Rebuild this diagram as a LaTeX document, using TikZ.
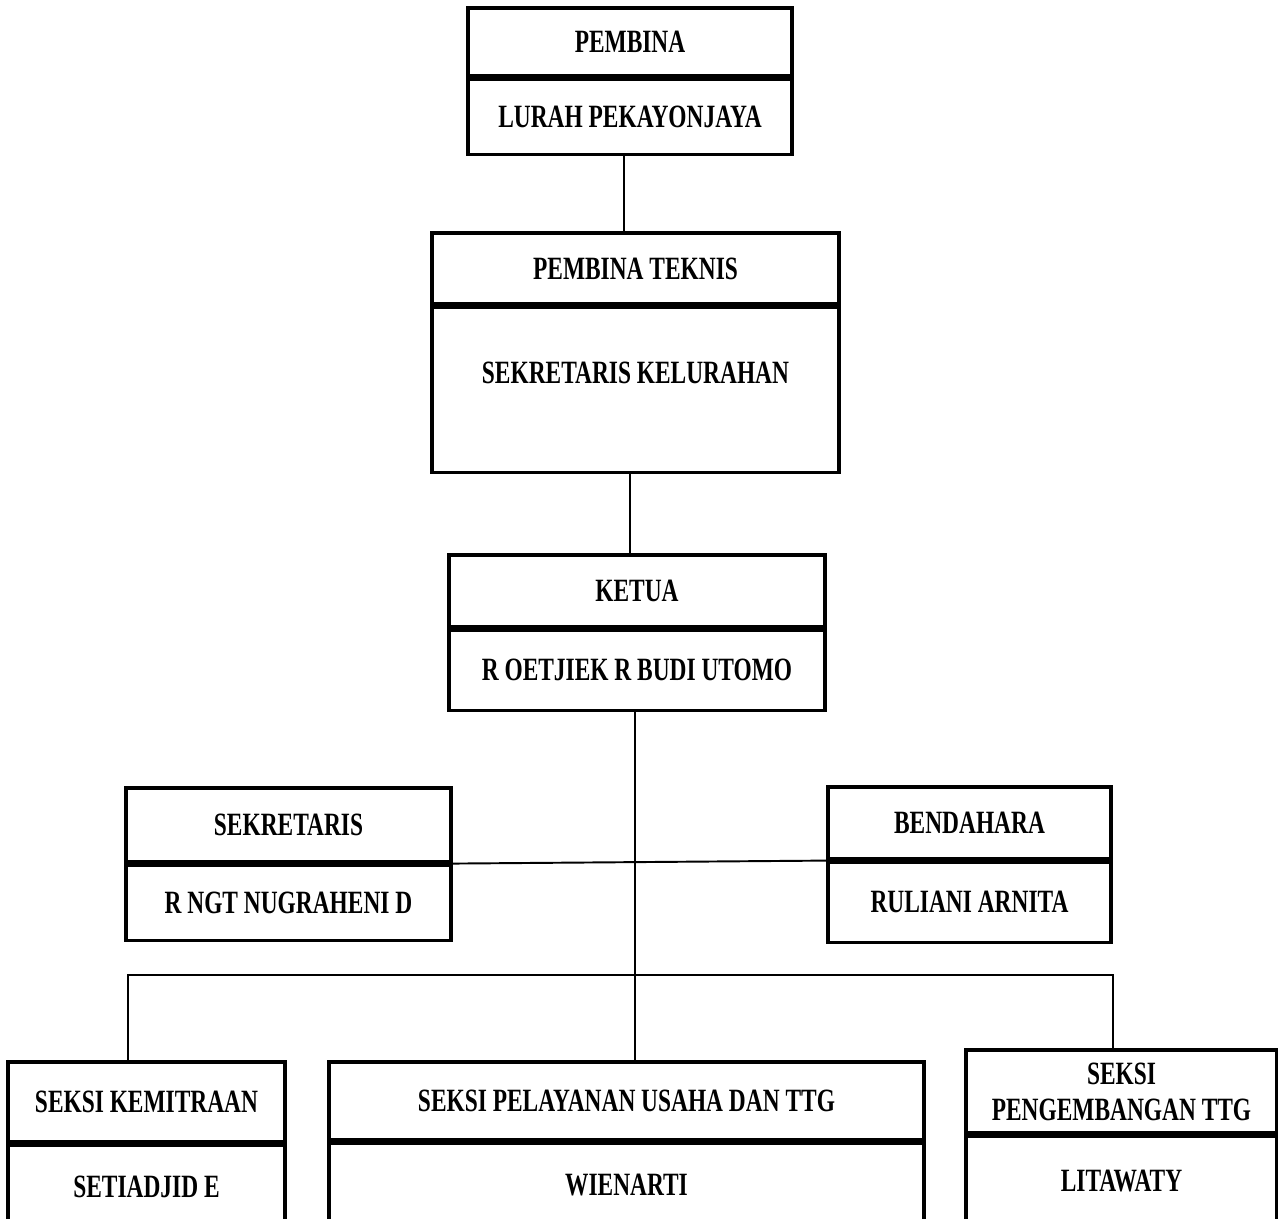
\documentclass[tikz,border=0pt]{standalone}
\usepackage{fontspec}
\setmainfont[FakeStretch=0.72]{Liberation Serif}
\usetikzlibrary{positioning}

\begin{document}
\begin{tikzpicture}[
    x=0.02cm, y=-0.02cm,
    every node/.style={font=\bfseries\fontsize{18.5}{18.5}\selectfont},
    unitbox/.style={draw, rectangle, line width=1.8pt, inner sep=0pt, align=center},
    link/.style={line width=1.1pt},
  ]
  \useasboundingbox (0,0) rectangle (1278,1218);
  \begin{scope}
  \clip (0,0) rectangle (1278,1218);
  % pembina
  \node[unitbox, minimum width=6.48cm, minimum height=1.36cm] (pembina) at (630,42) {PEMBINA};
  \node[unitbox, minimum width=6.48cm, minimum height=1.5cm, below=0pt of pembina] (lurah) {LURAH PEKAYONJAYA};
  % pembina teknis
  \node[unitbox, minimum width=8.14cm, minimum height=1.42cm] (teknis) at (635.5,268.5) {PEMBINA TEKNIS};
  \node[unitbox, minimum width=8.14cm, minimum height=3.3cm, below=0pt of teknis] (sekkel) {};
  \node (sekkeltext) at ([yshift=-1.34cm]sekkel.north) {SEKRETARIS KELURAHAN};
  % ketua
  \node[unitbox, minimum width=7.52cm, minimum height=1.44cm] (ketua) at (637,591) {KETUA};
  \node[unitbox, minimum width=7.52cm, minimum height=1.6cm, below=0pt of ketua] (ketuaname) {R OETJIEK R BUDI UTOMO};
  % sekretaris & bendahara
  \node[unitbox, minimum width=6.5cm, minimum height=1.48cm] (sekretaris) at (288.5,825) {SEKRETARIS};
  \node[unitbox, minimum width=6.5cm, minimum height=1.5cm, below=0pt of sekretaris] (sekname) {R NGT NUGRAHENI D};
  \node[unitbox, minimum width=5.66cm, minimum height=1.44cm] (bendahara) at (969.5,823) {BENDAHARA};
  \node[unitbox, minimum width=5.66cm, minimum height=1.6cm, below=0pt of bendahara] (bendname) {RULIANI ARNITA};
  % seksi
  \node[unitbox, minimum width=5.54cm, minimum height=1.6cm] (kemitraan) at (146.5,1102) {SEKSI KEMITRAAN};
  \node[unitbox, minimum width=5.54cm, minimum height=1.66cm, below=0pt of kemitraan] (kemname) {SETIADJID E};
  \node[unitbox, minimum width=11.9cm, minimum height=1.56cm] (pelayanan) at (626.5,1101) {SEKSI PELAYANAN USAHA DAN TTG};
  \node[unitbox, minimum width=11.9cm, minimum height=1.66cm, below=0pt of pelayanan] (pelname) {WIENARTI};
  \node[unitbox, minimum width=6.22cm, minimum height=1.66cm] (pengembangan) at (1121.5,1091.5) {SEKSI\\[2pt]PENGEMBANGAN TTG};
  \node[unitbox, minimum width=6.22cm, minimum height=1.8cm, below=0pt of pengembangan] (pengname) {LITAWATY};
  % connectors
  \coordinate (busleft) at (128,975);
  \coordinate (busright) at (1113,975);
  \coordinate (drop1) at (624,0);
  \coordinate (drop2) at (630,0);
  \coordinate (trunk) at (635,0);
  \draw[link] (drop1 |- lurah.south) -- (drop1 |- teknis.north);
  \draw[link] (drop2 |- sekkel.south) -- (drop2 |- ketua.north);
  \draw[link] (trunk |- ketuaname.south) -- (trunk |- pelayanan.north);
  \draw[link] (sekretaris.south east) -- (bendahara.south west);
  \draw[link] (busleft |- kemitraan.north) -- (busleft) -- (busright) -- (busright |- pengembangan.north);
  \end{scope}
\end{tikzpicture}
\end{document}
